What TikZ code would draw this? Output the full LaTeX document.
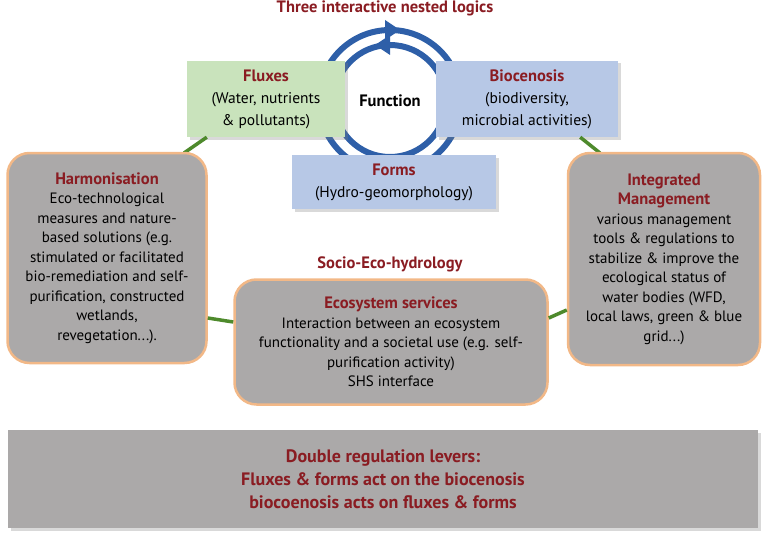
\documentclass[tikz,border=0pt]{standalone}
\usepackage{fontspec}
\setmainfont{PT Sans}
\usetikzlibrary{positioning, shadows}
\definecolor{darkred}{HTML}{8A1C22}
\definecolor{boxgreen}{HTML}{C9E3BC}
\definecolor{boxblue}{HTML}{B7C8E6}
\definecolor{boxgray}{HTML}{ABA9A9}
\definecolor{rimorange}{HTML}{F2B887}
\definecolor{loopblue}{HTML}{2E5FA8}
\definecolor{linkgreen}{HTML}{4E8A2C}
\tikzstyle{logic} = [rectangle, text centered, align=center, drop shadow={opacity=0.3}, font=\fontsize{15.5}{22}\selectfont]
\tikzstyle{lever} = [rectangle, rounded corners=22pt, draw=rimorange, line width=2.5pt, fill=boxgray, align=center, font=\fontsize{15}{19.5}\selectfont]
\tikzstyle{link} = [linkgreen, line width=3.5pt]
\tikzstyle{loop} = [loopblue, line width=6pt]
\newcommand{\hd}[1]{{\color{darkred}\bfseries #1}}
\newcommand{\bg}{\fontsize{16.5}{20}\selectfont}
\begin{document}
\begin{tikzpicture}[x=1pt, y=-1pt]
    \useasboundingbox (0,0) rectangle (766,535);
    % blue loops of the function
    \draw[loop] (390,101) circle (71);
    \draw[loop] (390,101) circle (56);
    \fill[loopblue] (400,30) -- (385,20) -- (385,40) -- cycle;
    \fill[loopblue] (375,45) -- (390,35) -- (390,55) -- cycle;
    \node (title) at (385,8) {\hd{\bg Three interactive nested logics}};
    \node (func) at (390,101) {\bg\bfseries Function};
    % the three logics
    \node (flux) [logic, fill=boxgreen, minimum width=158pt, minimum height=76pt] at (266,99)
        {\hd{\bg Fluxes}\\(Water, nutrients\\\& pollutants)};
    \node (bio) [logic, fill=boxblue, minimum width=182pt, minimum height=76pt] at (527,99)
        {\hd{\bg Biocenosis}\\(biodiversity,\\microbial activities)};
    \node (form) [logic, fill=boxblue, minimum width=204pt, minimum height=54pt] at (394,182)
        {\hd{\bg Forms}\\(Hydro-geomorphology)};
    % green links
    \draw[link] ([xshift=20pt]flux.south west) -- (184,153);
    \draw[link] ([xshift=-38pt]bio.south east) -- (600,153);
    % socio-eco-hydrology
    \node (harm) [lever, minimum width=199pt, minimum height=210pt] at (107,258)
        {\hd{\bg Harmonisation}\\Eco-technological\\measures and nature-\\based solutions (e.g.\\stimulated or facilitated\\bio-remediation and self-\\purification, constructed\\wetlands,\\revegetation...).};
    \node (integ) [lever, minimum width=192pt, minimum height=212pt] at (664,259)
        {\hd{\bg Integrated}\\\hd{\bg Management}\\various management\\tools \& regulations to\\stabilize \& improve the\\ecological status of\\water bodies (WFD,\\local laws, green \& blue\\grid...)};
    \node (eco) [lever, minimum width=313pt, minimum height=125pt] at (391,342)
        {\hd{\bg Ecosystem services}\\Interaction between an ecosystem\\functionality and a societal use (e.g. self-\\purification activity)\\SHS interface};
    \node (seh) at (390,264) {\hd{\bg Socio-Eco-hydrology}};
    \draw[link] ([yshift=-60pt]harm.east) -- ([yshift=20pt]eco.west);
    \draw[link] ([yshift=24pt]eco.east) -- ([yshift=-51pt]integ.west);
    % double regulation
    \node (double) [rectangle, fill=boxgray, drop shadow={opacity=0.3}, minimum width=750pt, minimum height=98pt, align=center,
        font=\fontsize{18}{23}\selectfont] at (383,479)
        {\hd{Double regulation levers:}\\\hd{Fluxes \& forms act on the biocenosis}\\\hd{biocoenosis acts on fluxes \& forms}};
\end{tikzpicture}
\end{document}
